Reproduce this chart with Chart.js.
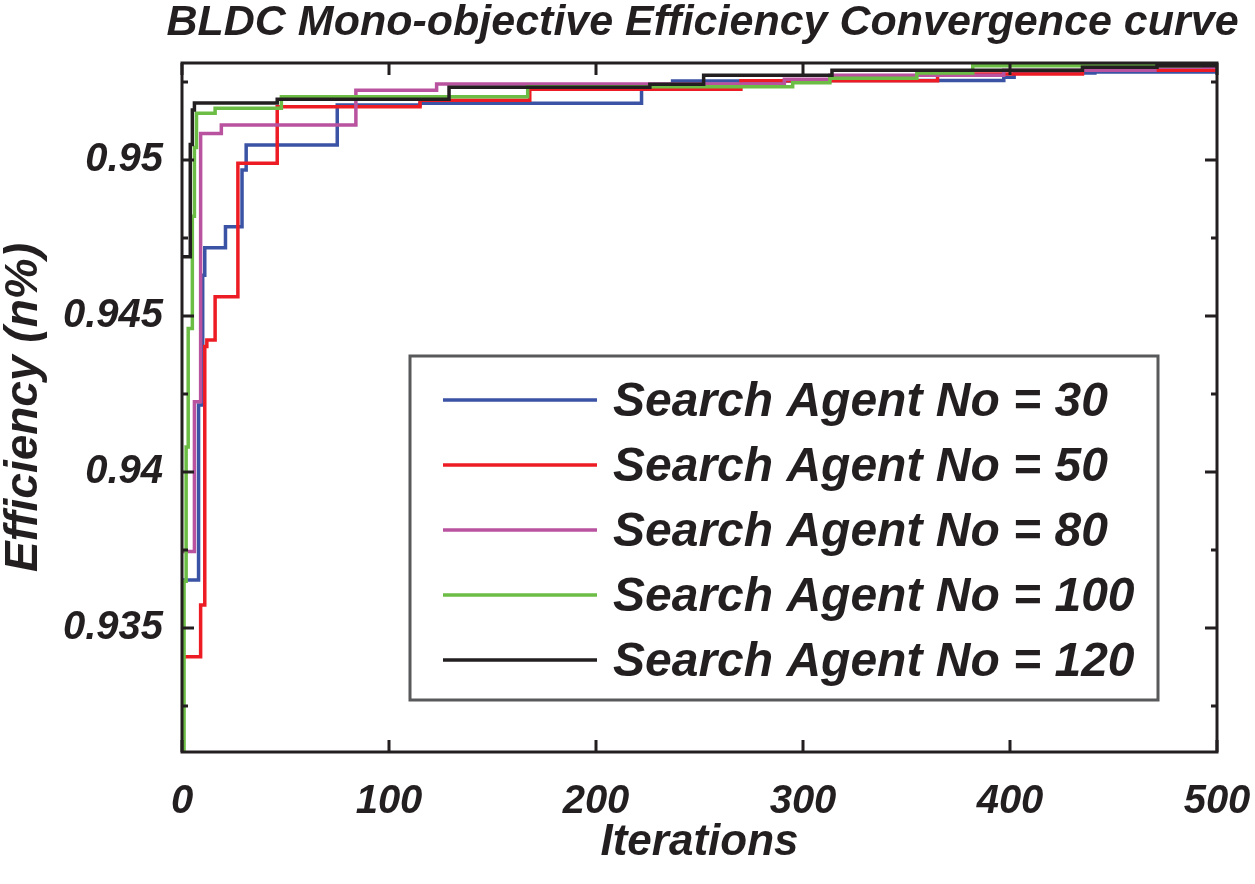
<!DOCTYPE html>
<html>
<head>
<meta charset="utf-8">
<script src="https://cdn.jsdelivr.net/npm/chart.js@4.4.1/dist/chart.umd.min.js"></script>
<style>
  html, body { margin: 0; padding: 0; background: #fff; }
</style>
</head>
<body>
<canvas id="chart" width="1255" height="884"></canvas>
<script>
// Data (each point = iteration where best efficiency changes)
const titleText = 'BLDC Mono-objective Efficiency Convergence curve';
const agentLabels = ['Search Agent No = 30', 'Search Agent No = 50', 'Search Agent No = 80',
	'Search Agent No = 100', 'Search Agent No = 120'];

const iter30 = [0, 8, 10, 11, 21, 29, 31, 75, 115, 222, 237, 313, 397, 402, 441, 500];
const eff30 = [0.93654, 0.94215, 0.94631, 0.94719, 0.94786, 0.94968, 0.95048, 0.95176, 0.95182,
	0.95235, 0.95253, 0.95255, 0.95265, 0.95279, 0.95282, 0.95286];

const iter50 = [0, 9, 11, 12, 16, 27, 46, 115, 168, 270, 365, 435, 500];
const eff50 = [0.93408, 0.93574, 0.94402, 0.94423, 0.94562, 0.9499, 0.95171, 0.95192, 0.95227,
	0.95254, 0.95276, 0.95288, 0.95292];

const iter80 = [0, 6, 9, 19, 84, 123, 291, 313, 397, 470, 500];
const eff80 = [0.93745, 0.94225, 0.95085, 0.95112, 0.95224, 0.95244, 0.95259, 0.95272, 0.95288,
	0.95297, 0.95297];

const iter100 = [0, 1, 2, 3, 5, 6, 7, 16, 48, 167, 295, 313, 355, 382, 492, 500];
const eff100 = [0.93103, 0.9365, 0.9408, 0.9446, 0.9482, 0.9504, 0.9515, 0.95166, 0.95203, 0.95235,
	0.95248, 0.95262, 0.95279, 0.95302, 0.95307, 0.95307];

const iter120 = [0, 4, 5, 6, 46, 129, 226, 252, 314, 435, 471, 500];
const eff120 = [0.9469, 0.9505, 0.9516, 0.95183, 0.95195, 0.95233, 0.95243, 0.95272, 0.95288,
	0.95297, 0.95302, 0.95302];

const xTicks = [0, 100, 200, 300, 400, 500];
const yTicks = [0.935, 0.94, 0.945, 0.95];
const yMinorTicks = [0.9325, 0.9375, 0.9425, 0.9475, 0.9525];

const seriesColors = ['#3a53a4', '#ed1c24', '#b9529f', '#6cbd45', '#231f20'];

// Constants
const FONT = '"Liberation Sans", Arial, Helvetica, sans-serif';
const INK = '#231f20';

function toPoints(xs, ys) {
	return xs.map((x, i) => ({ x: x, y: ys[i] }));
}

const seriesData = [
	toPoints(iter30, eff30),
	toPoints(iter50, eff50),
	toPoints(iter80, eff80),
	toPoints(iter100, eff100),
	toPoints(iter120, eff120)
];

// Frame, inward ticks, title and boxed legend, like the MATLAB figure
const figurePlugin = {
	id: 'figure',
	afterDatasetsDraw(chart) {
		const ctx = chart.ctx;
		const a = chart.chartArea;
		const xs = chart.scales.x;
		const ys = chart.scales.y;
		ctx.save();
		ctx.strokeStyle = INK;
		ctx.lineWidth = 3;

		// ticks on all four sides
		ctx.beginPath();
		for(let v of xTicks) {
			const px = xs.getPixelForValue(v);
			ctx.moveTo(px, a.bottom); ctx.lineTo(px, a.bottom - 12);
			ctx.moveTo(px, a.top); ctx.lineTo(px, a.top + 12);
		}
		for(let v of yTicks) {
			const py = ys.getPixelForValue(v);
			ctx.moveTo(a.left, py); ctx.lineTo(a.left + 12, py);
			ctx.moveTo(a.right, py); ctx.lineTo(a.right - 12, py);
		}
		for(let v of yMinorTicks) {
			const py = ys.getPixelForValue(v);
			ctx.moveTo(a.left, py); ctx.lineTo(a.left + 6, py);
			ctx.moveTo(a.right, py); ctx.lineTo(a.right - 6, py);
		}
		ctx.stroke();
		ctx.strokeRect(a.left, a.top, a.right - a.left, a.bottom - a.top);

		// legend box
		const lx = 410, ly = 356, lw = 748, lh = 344;
		ctx.fillStyle = '#ffffff';
		ctx.fillRect(lx, ly, lw, lh);
		ctx.strokeStyle = '#58595b';
		ctx.lineWidth = 3;
		ctx.strokeRect(lx, ly, lw, lh);
		ctx.font = 'italic bold 48px ' + FONT;
		ctx.textBaseline = 'middle';
		ctx.textAlign = 'left';
		chart.data.datasets.forEach((ds, i) => {
			const cy = 400 + i * 65;
			ctx.strokeStyle = ds.borderColor;
			ctx.lineWidth = 3.5;
			ctx.beginPath();
			ctx.moveTo(443, cy);
			ctx.lineTo(597, cy);
			ctx.stroke();
			ctx.fillStyle = INK;
			ctx.fillText(ds.label, 613, cy + 3);
		});

		// title
		ctx.font = 'italic bold 43px ' + FONT;
		ctx.textAlign = 'center';
		ctx.fillStyle = INK;
		ctx.fillText(titleText, (a.left + a.right) / 2 + 3, 23);
		ctx.restore();
	}
};

const tickFont = { family: FONT, size: 40, weight: 'bold', style: 'italic' };

const drawOrder = [4, 3, 2, 1, 0];

// Initialize
const chart = new Chart(document.getElementById('chart'), {
	type: 'line',
	data: {
		datasets: seriesData.map((pts, i) => ({
			label: agentLabels[i],
			data: pts,
			borderColor: seriesColors[i],
			backgroundColor: seriesColors[i],
			borderWidth: 3.5,
			pointRadius: 0,
			stepped: true,
			fill: false,
			order: drawOrder[i]
		}))
	},
	options: {
		responsive: false,
		animation: false,
		devicePixelRatio: 1,
		layout: { padding: { top: 63, right: 38, left: 0, bottom: 0 } },
		plugins: {
			legend: { display: false },
			tooltip: { enabled: false },
			title: { display: false }
		},
		scales: {
			x: {
				type: 'linear',
				min: 0,
				max: 500,
				afterBuildTicks: (s) => { s.ticks = xTicks.map(v => ({ value: v })); },
				afterFit: (s) => {
					s.height = 132;
					s.paddingLeft = 0;
					s.paddingRight = 0;
				},
				grid: { display: false, drawTicks: false },
				border: { display: false },
				ticks: { font: tickFont, color: INK, padding: 26, maxRotation: 0 },
				title: {
					display: true,
					text: 'Iterations',
					color: INK,
					font: { family: FONT, size: 44, weight: 'bold', style: 'italic' },
					padding: { top: 0, bottom: 15 }
				}
			},
			y: {
				type: 'linear',
				min: 0.931026,
				max: 0.95311,
				afterBuildTicks: (s) => { s.ticks = yTicks.map(v => ({ value: v })); },
				afterFit: (s) => {
					s.width = 182;
					s.paddingTop = 0;
					s.paddingBottom = 0;
				},
				grid: { display: false, drawTicks: false },
				border: { display: false },
				ticks: {
					font: tickFont,
					color: INK,
					padding: 19,
					callback: (v) => String(v)
				},
				title: {
					display: true,
					text: 'Efficiency (n%)',
					color: INK,
					font: { family: FONT, size: 46, weight: 'bold', style: 'italic', lineHeight: 1 },
					padding: { top: 1, bottom: 0 }
				}
			}
		}
	},
	plugins: [figurePlugin]
});
</script>
</body>
</html>
